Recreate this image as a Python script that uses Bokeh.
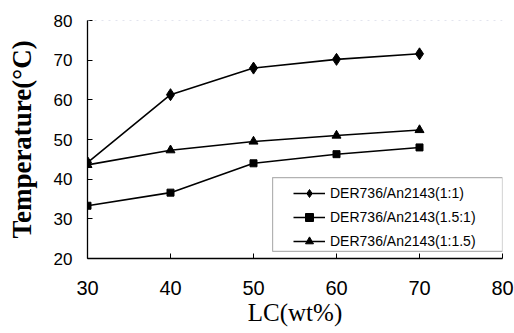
from bokeh.plotting import figure
from bokeh.models import Legend, LegendItem, Range1d, FixedTicker, Span, BoxAnnotation
from bokeh.embed import file_html
from bokeh.resources import INLINE

lc = [30, 40, 50, 60, 70]
s_1_1 = [44.2, 61.3, 68.0, 70.2, 71.6]
s_15_1 = [33.3, 36.6, 44.0, 46.3, 48.0]
s_1_15 = [43.6, 47.3, 49.5, 51.0, 52.4]
names = ["DER736/An2143(1:1)", "DER736/An2143(1.5:1)", "DER736/An2143(1:1.5)"]
x_ticks = [30, 40, 50, 60, 70, 80]
y_ticks = [20, 30, 40, 50, 60, 70, 80]

p = figure(width=514, height=333, output_backend="svg", toolbar_location=None,
           x_range=Range1d(30, 80), y_range=Range1d(20, 80),
           min_border_left=87, min_border_right=12, min_border_top=20, min_border_bottom=75)
p.outline_line_color = None
p.grid.visible = False
p.background_fill_color = "white"

for ax in (p.xaxis[0], p.yaxis[0]):
    ax.axis_line_color = "black"
    ax.axis_line_width = 1.3
    ax.major_tick_line_color = "black"
    ax.major_tick_out = 0
    ax.major_tick_in = 5
    ax.minor_tick_line_color = None
    ax.major_label_text_color = "black"
    ax.axis_label_text_color = "black"

p.xaxis.ticker = FixedTicker(ticks=x_ticks)
p.yaxis.ticker = FixedTicker(ticks=y_ticks)
p.xaxis.major_label_text_font = "Liberation Sans"
p.yaxis.major_label_text_font = "Liberation Sans"
p.xaxis.major_label_text_font_size = "20px"
p.yaxis.major_label_text_font_size = "17px"
p.xaxis.major_label_standoff = 22
p.yaxis.major_label_standoff = 15

p.xaxis.axis_label = "LC(wt%)"
p.xaxis.axis_label_text_font = "Liberation Serif"
p.xaxis.axis_label_text_font_style = "normal"
p.xaxis.axis_label_text_font_size = "25px"
p.xaxis.axis_label_standoff = 1

p.yaxis.axis_label = "Temperature(°C)"
p.yaxis.axis_label_text_font = "Liberation Serif"
p.yaxis.axis_label_text_font_style = "bold"
p.yaxis.axis_label_text_font_size = "27px"
p.yaxis.axis_label_standoff = 14

p.add_layout(Span(location=80, dimension="width", line_color="#c5c9dd",
                  line_dash="2 5", line_width=1))

series = [(s_1_1, "diamond", 12), (s_15_1, "square", 7), (s_1_15, "triangle", 9)]
items = []
for vals, mk, sz in series:
    l = p.line(lc, vals, line_color="black", line_width=1.6)
    s = p.scatter(lc, vals, marker=mk, size=sz, fill_color="black", line_color="black")
    items.append((l, s))

p.add_layout(BoxAnnotation(left=52.3, right=80, bottom=21.8, top=40.4,
                           fill_color="white", fill_alpha=1.0,
                           line_color="black", line_width=1.2))

legend = Legend(items=[LegendItem(label=n, renderers=list(r)) for n, r in zip(names, items)],
                location=(206, 7), padding=0, spacing=4, label_height=20, glyph_height=20,
                glyph_width=32, label_standoff=5, border_line_color=None,
                background_fill_alpha=0, label_text_font="Liberation Sans",
                label_text_font_size="14px", label_text_color="black")
p.add_layout(legend)

open("out.html", "w").write(file_html(p, INLINE))
